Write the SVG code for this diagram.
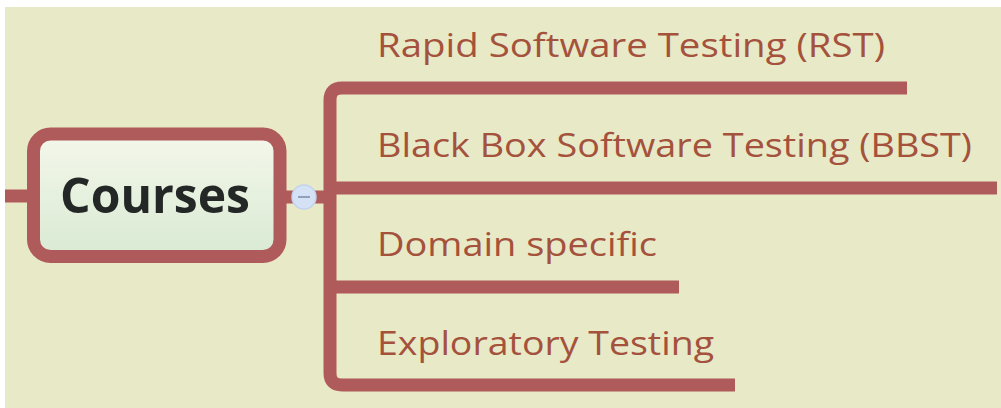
<svg xmlns="http://www.w3.org/2000/svg" width="1001" height="408" viewBox="0 0 1001 408">
  <defs>
    <linearGradient id="topicFill" x1="0" y1="0" x2="0" y2="1">
      <stop offset="0" stop-color="#f4f7ea"/>
      <stop offset="1" stop-color="#d9ead3"/>
    </linearGradient>
    <style>
      .branch { fill: none; stroke: #b05b5b; stroke-width: 13; }
      .label { font-family: "Open Sans", "Noto Sans", "Liberation Sans", sans-serif; font-size: 33px; fill: #a4523c; }
      .central { font-family: "Open Sans", "Noto Sans", "Liberation Sans", sans-serif; font-size: 48px; font-weight: bold; fill: #232826; }
    </style>
  </defs>

  <!-- canvas -->
  <rect x="0" y="0" width="1001" height="408" fill="#ffffff"/>
  <rect x="5" y="7" width="996" height="401" fill="#e8e9c7"/>

  <!-- connectors -->
  <g id="connectors">
    <path class="branch" d="M5 196 H34"/>
    <path class="branch" d="M280 197 H330"/>
    <path class="branch" d="M907 88 H342 Q330 88 330 100 V373 Q330 385 342 385 H735"/>
    <path class="branch" d="M330 188 H997"/>
    <path class="branch" d="M330 287 H679"/>
  </g>

  <!-- central topic -->
  <g id="node-courses">
    <rect x="33.5" y="134" width="246.5" height="122.5" rx="17" ry="17" fill="url(#topicFill)" stroke="#b05b5b" stroke-width="13"/>
    <text class="central" x="155" y="213" text-anchor="middle" textLength="190" lengthAdjust="spacingAndGlyphs">Courses</text>
  </g>

  <!-- collapse toggle -->
  <g id="toggle">
    <circle cx="304" cy="197" r="12" fill="#d5e1f5" stroke="#c3d2ee" stroke-width="1.5"/>
    <path d="M298 197 H310" stroke="#7a8aa8" stroke-width="1.5"/>
  </g>

  <!-- subtopics -->
  <g id="node-rst">
    <text class="label" x="377" y="57" textLength="508" lengthAdjust="spacingAndGlyphs">Rapid Software Testing (RST)</text>
  </g>
  <g id="node-bbst">
    <text class="label" x="377" y="157" textLength="595" lengthAdjust="spacingAndGlyphs">Black Box Software Testing (BBST)</text>
  </g>
  <g id="node-domain">
    <text class="label" x="377" y="256" textLength="280" lengthAdjust="spacingAndGlyphs">Domain specific</text>
  </g>
  <g id="node-exploratory">
    <text class="label" x="377" y="355" textLength="337" lengthAdjust="spacingAndGlyphs">Exploratory Testing</text>
  </g>
</svg>
